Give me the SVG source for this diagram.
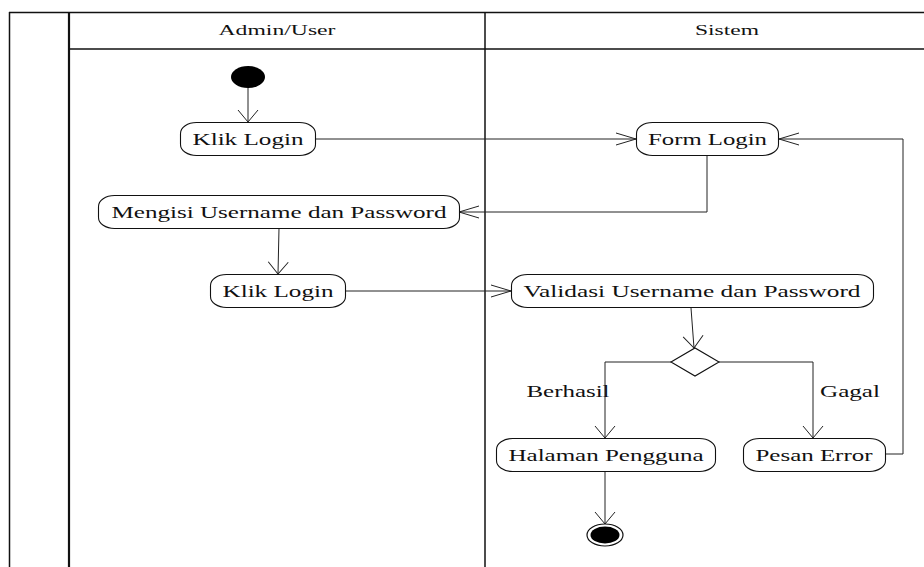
<svg xmlns="http://www.w3.org/2000/svg" width="924" height="567" viewBox="0 0 924 567">
<style>
  .lane { stroke: #111; fill: none; }
  .node rect { fill: #fff; stroke: #111; stroke-width: 1.1; }
  .lbl { font-family: "Liberation Serif", "Times New Roman", serif; font-size: 16px; fill: #111; }
  .hdr { font-family: "Liberation Serif", "Times New Roman", serif; font-size: 14.5px; fill: #111; }
  .conn { stroke: #222; stroke-width: 1; fill: none; }
</style>
<defs>
  <marker id="ah" markerUnits="userSpaceOnUse" markerWidth="40" markerHeight="40" refX="0" refY="0" orient="auto" viewBox="-30 -15 40 30" overflow="visible">
    <path d="M-20,-6 L0,0 L-20,6" fill="none" stroke="#222" stroke-width="1"/>
  </marker>
  <marker id="av" markerUnits="userSpaceOnUse" markerWidth="40" markerHeight="40" refX="0" refY="0" orient="auto" viewBox="-30 -15 40 30" overflow="visible">
    <path d="M-12,-10 L0,0 L-12,10" fill="none" stroke="#222" stroke-width="1"/>
  </marker>
</defs>
<rect width="924" height="567" fill="#fff"/>
<g id="swimlanes">
  <line class="lane" x1="9.5" y1="12" x2="9.5" y2="567" stroke-width="1.5"/>
  <line class="lane" x1="9" y1="12.5" x2="924" y2="12.5" stroke-width="1.5"/>
  <line class="lane" x1="69" y1="12" x2="69" y2="567" stroke-width="2.2"/>
  <line class="lane" x1="69" y1="49" x2="924" y2="49" stroke-width="1.5"/>
  <line class="lane" x1="485" y1="12" x2="485" y2="567" stroke-width="1.5"/>
  <text class="hdr" x="277" y="35" text-anchor="middle" textLength="117" lengthAdjust="spacingAndGlyphs">Admin/User</text>
  <text class="hdr" x="727" y="35" text-anchor="middle" textLength="64" lengthAdjust="spacingAndGlyphs">Sistem</text>
</g>
<g id="connectors">
  <line class="conn" x1="248" y1="88" x2="248" y2="122" marker-end="url(#av)"/>
  <line class="conn" x1="315" y1="139" x2="636" y2="139" marker-end="url(#ah)"/>
  <polyline class="conn" points="707,156 707,212 459,212" marker-end="url(#ah)"/>
  <line class="conn" x1="279" y1="228" x2="278" y2="274" marker-end="url(#av)"/>
  <line class="conn" x1="345" y1="291" x2="511" y2="291" marker-end="url(#ah)"/>
  <line class="conn" x1="691" y1="308" x2="694" y2="348" marker-end="url(#av)"/>
  <polyline class="conn" points="671,362 605,362 605,438" marker-end="url(#av)"/>
  <polyline class="conn" points="719,362 813,362 813,438" marker-end="url(#av)"/>
  <polyline class="conn" points="885,454 903,454 903,139 779,139" marker-end="url(#ah)"/>
  <line class="conn" x1="605" y1="471" x2="605" y2="524" marker-end="url(#av)"/>
  <text class="lbl" x="568" y="397" text-anchor="middle" textLength="83" lengthAdjust="spacingAndGlyphs">Berhasil</text>
  <text class="lbl" x="850" y="397" text-anchor="middle" textLength="60" lengthAdjust="spacingAndGlyphs">Gagal</text>
</g>
<g id="start">
  <ellipse cx="248" cy="77" rx="17" ry="11" fill="#000"/>
</g>
<g id="klik-login-1" class="node">
  <rect x="180.5" y="122.5" width="135" height="33" rx="16" ry="11"/>
  <text class="lbl" x="248" y="144.5" text-anchor="middle" textLength="111" lengthAdjust="spacingAndGlyphs">Klik Login</text>
</g>
<g id="form-login" class="node">
  <rect x="636.5" y="122.5" width="142" height="33" rx="16" ry="11"/>
  <text class="lbl" x="707.5" y="144.5" text-anchor="middle" textLength="119" lengthAdjust="spacingAndGlyphs">Form Login</text>
</g>
<g id="mengisi" class="node">
  <rect x="98.5" y="195.5" width="361" height="33" rx="16" ry="11"/>
  <text class="lbl" x="279" y="217.5" text-anchor="middle" textLength="335" lengthAdjust="spacingAndGlyphs">Mengisi Username dan Password</text>
</g>
<g id="klik-login-2" class="node">
  <rect x="210.5" y="274.5" width="135" height="33" rx="16" ry="11"/>
  <text class="lbl" x="278" y="296.5" text-anchor="middle" textLength="111" lengthAdjust="spacingAndGlyphs">Klik Login</text>
</g>
<g id="validasi" class="node">
  <rect x="511.5" y="274.5" width="362" height="33" rx="16" ry="11"/>
  <text class="lbl" x="692" y="296.5" text-anchor="middle" textLength="337" lengthAdjust="spacingAndGlyphs">Validasi Username dan Password</text>
</g>
<g id="decision">
  <polygon points="671,362 695,348 719,362 695,376" fill="#fff" stroke="#111" stroke-width="1.1"/>
</g>
<g id="halaman" class="node">
  <rect x="496.5" y="438.5" width="219" height="33" rx="16" ry="11"/>
  <text class="lbl" x="606" y="460.5" text-anchor="middle" textLength="195" lengthAdjust="spacingAndGlyphs">Halaman Pengguna</text>
</g>
<g id="pesan-error" class="node">
  <rect x="743.5" y="438.5" width="142" height="33" rx="16" ry="11"/>
  <text class="lbl" x="814" y="460.5" text-anchor="middle" textLength="117" lengthAdjust="spacingAndGlyphs">Pesan Error</text>
</g>
<g id="end">
  <ellipse cx="605" cy="535" rx="18" ry="11" fill="#fff" stroke="#111" stroke-width="1.2"/>
  <ellipse cx="605" cy="535" rx="14.5" ry="8.5" fill="#000"/>
</g>
</svg>
